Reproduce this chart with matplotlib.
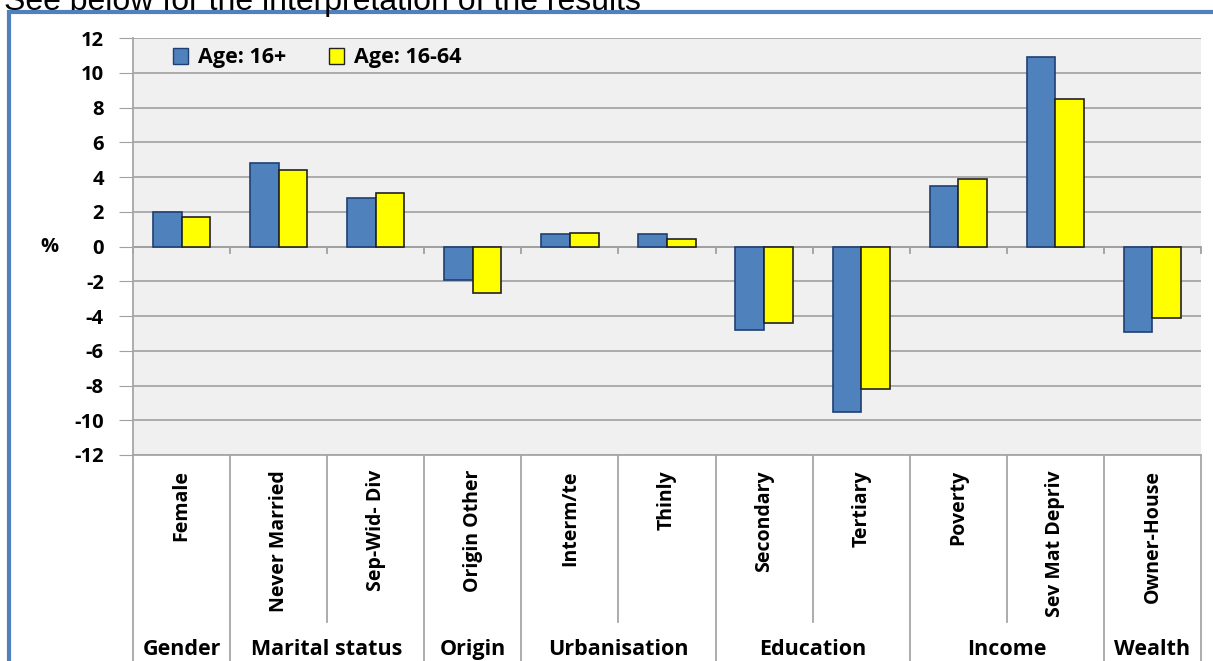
import numpy as np
import matplotlib
matplotlib.use('Agg')
import matplotlib.pyplot as plt
from matplotlib.patches import Patch, Rectangle

# categories and groups
Categories = ["Female", "Never Married", "Sep-Wid- Div", "Origin Other", "Interm/te", "Thinly",
              "Secondary", "Tertiary", "Poverty", "Sev Mat Depriv", "Owner-House"]
Groups = ["Gender", "Marital status", "Origin", "Urbanisation", "Education", "Income", "Wealth"]
GroupSizes = [1, 2, 1, 2, 2, 2, 1]
# values (%)
Age16plus = [2.0, 4.8, 2.8, -1.9, 0.7, 0.7, -4.8, -9.5, 3.5, 10.9, -4.9]
Age16_64 = [1.7, 4.4, 3.1, -2.7, 0.8, 0.45, -4.4, -8.2, 3.9, 8.5, -4.1]
Yticks = list(range(-12, 13, 2))

plt.rcParams['font.family'] = ['Open Sans', 'DejaVu Sans']
plt.rcParams['font.weight'] = 'bold'

W, H = 1213, 661
fig = plt.figure(figsize=(W/100, H/100), dpi=100)
ax = fig.add_axes([133/W, (H-455)/H, 1068/W, 417/H])
ax.set_facecolor('#f0f0f0')

x = np.arange(len(Categories))
w = 0.295
ax.bar(x - w/2, Age16plus, w, color='#4f81bd', edgecolor='#1f3f73', lw=1.2, zorder=3)
ax.bar(x + w/2, Age16_64, w, color='#ffff00', edgecolor='#222222', lw=1.2, zorder=3)

ax.set_xlim(-0.5, len(Categories) - 0.5)
ax.set_ylim(-12, 12)
ax.set_yticks(Yticks)
ax.set_yticklabels([str(v) for v in Yticks], fontsize=14.5, fontweight='bold')
ax.tick_params(axis='y', length=10, color='#a0a0a0', pad=11)
ax.set_xticks([])
ax.grid(axis='y', color='#a6a6a6', lw=1.3, zorder=1)
for s in ['top', 'right', 'bottom']:
    ax.spines[s].set_visible(False)
ax.spines['left'].set_color('#a6a6a6')
ax.spines['left'].set_linewidth(1.3)

# zero line with small ticks
ax.axhline(0, color='#a0a0a0', lw=1.3, zorder=2)
for b in np.arange(-0.5, len(Categories), 1.0):
    ax.plot([b, b], [0, -0.4], color='#a0a0a0', lw=1.3, zorder=2, clip_on=False)

ax.text(-0.078, 0.5, '%', transform=ax.transAxes, ha='center', va='center',
        fontsize=14.5, fontweight='bold')

# category label table below the axes
tr = ax.get_xaxis_transform()
for i, c in enumerate(Categories):
    ax.text(i, -0.036, c, transform=tr, rotation=90, ha='center', va='top',
            fontsize=14, fontweight='bold', clip_on=False)

bounds = np.cumsum([0] + GroupSizes) - 0.5
for b in np.arange(-0.5, len(Categories), 1.0):
    ymin = -0.6 if np.any(np.isclose(bounds, b)) else -0.40
    ax.plot([b, b], [0, ymin], transform=tr, color='#a6a6a6', lw=1.3, clip_on=False)
ax.plot([-0.5, len(Categories) - 0.5], [0, 0], transform=tr, color='#a6a6a6', lw=1.3, clip_on=False)
# group names along the bottom edge
for g, lo, hi in zip(Groups, bounds[:-1], bounds[1:]):
    ax.text((lo + hi) / 2, -0.492, g, transform=tr, ha='center', va='bottom',
            fontsize=15.5, fontweight='bold', clip_on=False)

# legend
handles = [Patch(facecolor='#4f81bd', edgecolor='#1f3f73', label='Age: 16+'),
           Patch(facecolor='#ffff00', edgecolor='#222222', label='Age: 16-64')]
fig.legend(handles=handles, loc='center left', bbox_to_anchor=(173/W, 1 - 58/H), ncol=2,
           frameon=False, handlelength=0.7, handleheight=0.7,
           handletextpad=0.45, columnspacing=2.0, borderaxespad=0, borderpad=0,
           prop={'weight': 'bold', 'size': 15.5})

# outer frame and cropped caption above it
fig.patches.append(Rectangle((9/W, -0.1), 1.2, 1.1 - 12/H, transform=fig.transFigure,
                             facecolor='none', edgecolor='#4f81bd', lw=3))
fig.text(4/W, 1 - 10/H, 'See below for the interpretation of the results', ha='left',
         va='baseline', fontsize=23, family='Liberation Sans', fontweight='normal')

fig.savefig('out.png', dpi=100)
